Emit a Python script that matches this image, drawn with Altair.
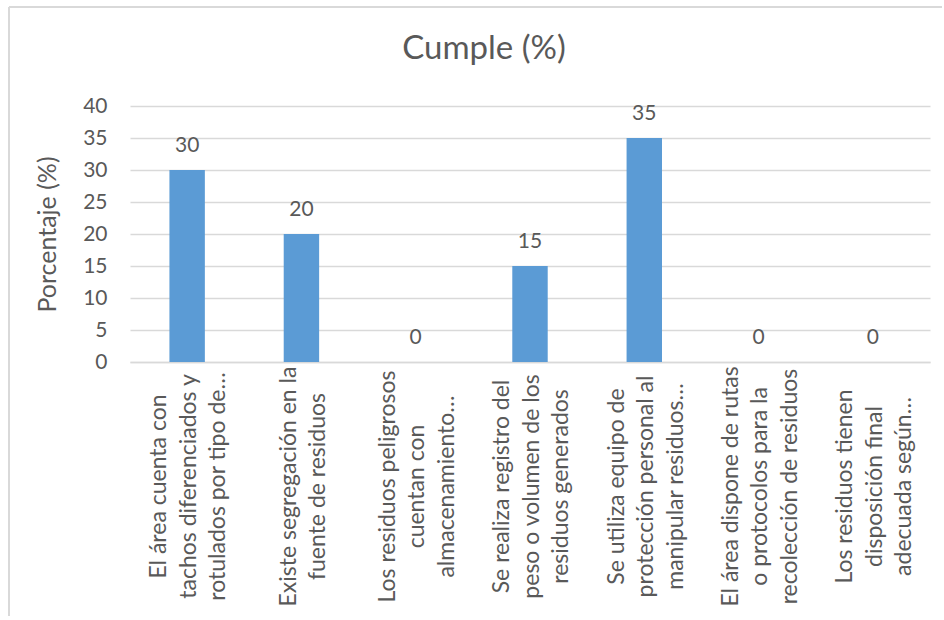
import altair as alt
import pandas as pd

categories = [
    "El área cuenta con|tachos diferenciados y|rotulados por tipo de…",
    "Existe segregación en la|fuente de residuos",
    "Los residuos peligrosos|cuentan con|almacenamiento…",
    "Se realiza registro del|peso o volumen de los|residuos generados",
    "Se utiliza equipo de|protección personal al|manipular residuos…",
    "El área dispone de rutas|o protocolos para la|recolección de residuos",
    "Los residuos tienen|disposición final|adecuada según…",
]
values = [30, 20, 0, 15, 35, 0, 0]
y_ticks = [0, 5, 10, 15, 20, 25, 30, 35, 40]

df = pd.DataFrame({"cat": categories, "val": values})

FONT = "Lato"
TXT = "#595959"
GRID = "#D9D9D9"
BAR = "#5B9BD5"
LH = 29.5

x_enc = alt.X(
    "cat:N",
    sort=categories,
    title=None,
    scale=alt.Scale(paddingInner=0.69, paddingOuter=0.345),
    axis=alt.Axis(
        labelAngle=-90,
        labelAlign="center",
        labelBaseline={
            "condition": {
                "test": "length(split(datum.value, '|')) > 2",
                "value": "line-bottom",
            },
            "value": "middle",
        },
        labelOffset=-LH / 2 + 2,
        labelPadding=124,
        labelLimit=0,
        labelOverlap=False,
        labelExpr="split(datum.label, '|')",
        labelLineHeight=LH,
        labelFontSize=23,
        labelFont=FONT,
        labelColor=TXT,
        ticks=False,
        tickSize=0,
        domainColor=GRID,
        domainWidth=1.5,
        grid=False,
    ),
)
y_enc = alt.Y(
    "val:Q",
    scale=alt.Scale(domain=[0, 40]),
    axis=alt.Axis(
        values=y_ticks,
        title="Porcentaje (%)",
        titleFont=FONT,
        titleFontSize=25,
        titleFontWeight="normal",
        titleColor=TXT,
        titleX=-83,
        titleY=128,
        titleAlign="center",
        titleBaseline="middle",
        labelFont=FONT,
        labelFontSize=21,
        labelColor=TXT,
        labelPadding=23,
        labelOverlap=False,
        ticks=False,
        tickSize=0,
        domain=False,
        grid=True,
        gridColor=GRID,
        gridWidth=1.5,
    ),
)

bars = alt.Chart(df).mark_bar(color=BAR).encode(x=x_enc, y=y_enc)
labels = alt.Chart(df).mark_text(
    dy=-24, baseline="middle", font=FONT, fontSize=21, color=TXT
).encode(x=x_enc, y=y_enc, text="val:Q")

frame = alt.Data(values=[{"k": 1}])
frame_top = alt.Chart(frame).mark_rule(color=GRID, strokeWidth=2).encode(
    x=alt.value(-121), x2=alt.value(830), y=alt.value(-99)
)
frame_left = alt.Chart(frame).mark_rule(color=GRID, strokeWidth=2).encode(
    x=alt.value(-121), y=alt.value(-99), y2=alt.value(530)
)

chart = alt.layer(bars, labels, frame_top, frame_left).properties(
    width=800,
    height=256,
    padding={"left": 130, "top": 106, "right": 12, "bottom": 254},
    autosize=alt.AutoSizeParams(type="none"),
    title=alt.TitleParams(
        "Cumple (%)",
        font=FONT,
        fontSize=33,
        fontWeight="normal",
        color=TXT,
        dx=-46,
        dy=116,
        offset=30,
        baseline="alphabetic",
        anchor="middle",
    ),
).configure_view(stroke=None)

chart.save("out.html", embed_options={"renderer": "svg", "actions": False})
